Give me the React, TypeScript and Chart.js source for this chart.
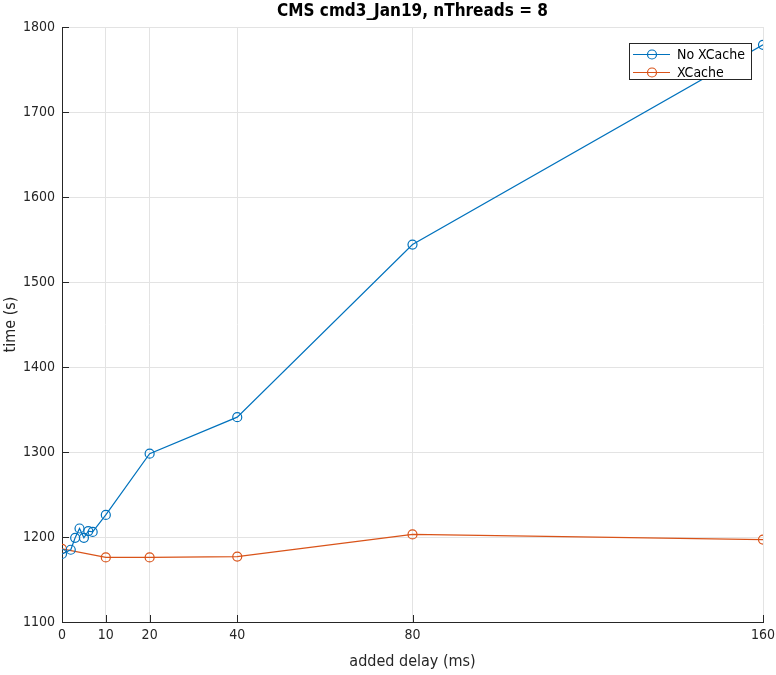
import React, { useEffect, useRef } from "react";
import { Chart, registerables } from "chart.js";

Chart.register(...registerables);

const titleText = "CMS cmd3_Jan19, nThreads = 8";
const xLabel = "added delay (ms)";
const yLabel = "time (s)";
const xTicks = [0, 10, 20, 40, 80, 160];
const yTicks = [1100, 1200, 1300, 1400, 1500, 1600, 1700, 1800];

const noCacheName = "No XCache";
const noCacheX = [0, 2, 3, 4, 5, 6, 7, 10, 20, 40, 80, 160];
const noCacheY = [1180, 1185, 1199, 1210, 1199, 1207, 1206, 1226, 1298, 1341, 1544, 1779];

const cacheName = "XCache";
const cacheX = [0, 10, 20, 40, 80, 160];
const cacheY = [1186, 1176, 1176, 1177, 1203, 1197];

const BLUE = "#0072BD";
const ORANGE = "#D95319";
const FONT = "'DejaVu Sans Condensed', 'DejaVu Sans', sans-serif";
const AXIS = "#262626";

const extras = {
  id: "extras",
  afterDraw(chart: any) {
    const ctx = chart.ctx;
    const area = chart.chartArea;
    const xs = chart.scales.x;
    const ys = chart.scales.y;
    ctx.save();
    // inward tick marks
    ctx.strokeStyle = AXIS;
    ctx.lineWidth = 1;
    ctx.beginPath();
    xTicks.forEach((v) => {
      const px = Math.round(xs.getPixelForValue(v)) + 0.5;
      ctx.moveTo(px, area.bottom);
      ctx.lineTo(px, area.bottom - 7);
    });
    yTicks.forEach((v) => {
      const py = Math.round(ys.getPixelForValue(v)) + 0.5;
      ctx.moveTo(area.left, py);
      ctx.lineTo(area.left + 7, py);
    });
    ctx.stroke();

    // title
    ctx.fillStyle = "#000";
    ctx.font = `bold 17px ${FONT}`;
    ctx.textAlign = "center";
    ctx.textBaseline = "middle";
    ctx.fillText(titleText, (area.left + area.right) / 2, 12);

    // legend
    const lx = 629, ly = 43, lw = 122, lh = 36;
    ctx.fillStyle = "#fff";
    ctx.fillRect(lx, ly, lw, lh);
    ctx.strokeStyle = AXIS;
    ctx.lineWidth = 1;
    ctx.strokeRect(lx + 0.5, ly + 0.5, lw, lh);
    const entries = [
      { name: noCacheName, color: BLUE, y: 54 },
      { name: cacheName, color: ORANGE, y: 72 },
    ];
    entries.forEach((e) => {
      ctx.strokeStyle = e.color;
      ctx.lineWidth = 1.2;
      ctx.beginPath();
      ctx.moveTo(633, e.y + 0.5);
      ctx.lineTo(670, e.y + 0.5);
      ctx.stroke();
      ctx.beginPath();
      ctx.arc(652, e.y + 0.5, 4.5, 0, Math.PI * 2);
      ctx.stroke();
      ctx.fillStyle = "#000";
      ctx.font = `14px ${FONT}`;
      ctx.textAlign = "left";
      ctx.textBaseline = "middle";
      ctx.fillText(e.name, 677, e.y + 1);
    });
    ctx.restore();
  },
};

export default function App() {
  const ref = useRef<HTMLCanvasElement>(null);
  useEffect(() => {
    document.body.style.margin = "0";
    const canvas = ref.current!;
    const ds = (name: string, xs: number[], ys: number[], color: string) => ({
      label: name,
      data: xs.map((x, i) => ({ x, y: ys[i] })),
      borderColor: color,
      backgroundColor: color,
      borderWidth: 1.2,
      pointRadius: 4.5,
      pointHoverRadius: 4.5,
      pointBorderWidth: 1.2,
      pointBorderColor: color,
      pointBackgroundColor: "rgba(0,0,0,0)",
      tension: 0,
      showLine: true,
    });
    const chart = new Chart(canvas, {
      type: "scatter",
      data: {
        datasets: [
          ds(noCacheName, noCacheX, noCacheY, BLUE),
          ds(cacheName, cacheX, cacheY, ORANGE),
        ],
      },
      options: {
        responsive: false,
        animation: false,
        layout: { padding: { left: 0, right: 13, top: 27, bottom: 0 } },
        plugins: {
          legend: { display: false },
          title: { display: false },
          tooltip: { enabled: false },
        },
        scales: {
          x: {
            type: "linear",
            min: 0,
            max: 160,
            afterBuildTicks: (s: any) => {
              s.ticks = xTicks.map((v) => ({ value: v }));
            },
            afterFit: (s: any) => {
              s.height = 53;
              s.paddingLeft = 0;
              s.paddingRight = 0;
            },
            grid: { color: "#e3e3e3", lineWidth: 1, drawTicks: false },
            border: { display: true, color: AXIS, width: 1 },
            ticks: {
              color: AXIS,
              font: { family: FONT, size: 14 },
              padding: 5,
              maxRotation: 0,
              autoSkip: false,
              callback: (v: any) => String(v),
            },
            title: {
              display: true,
              text: xLabel,
              color: AXIS,
              font: { family: FONT, size: 16 },
              padding: { top: 0, bottom: 4 },
            },
          },
          y: {
            type: "linear",
            min: 1100,
            max: 1800,
            afterBuildTicks: (s: any) => {
              s.ticks = yTicks.map((v) => ({ value: v }));
            },
            afterFit: (s: any) => {
              s.width = 62;
              s.paddingTop = 0;
              s.paddingBottom = 0;
            },
            grid: { color: "#e3e3e3", lineWidth: 1, drawTicks: false },
            border: { display: true, color: AXIS, width: 1 },
            ticks: {
              color: AXIS,
              font: { family: FONT, size: 14 },
              padding: 7,
              autoSkip: false,
              callback: (v: any) => String(v),
            },
            title: {
              display: true,
              text: yLabel,
              color: AXIS,
              font: { family: FONT, size: 16 },
              padding: { top: 1, bottom: 0 },
            },
          },
        },
      },
      plugins: [extras],
    });
    return () => chart.destroy();
  }, []);
  return <canvas ref={ref} width={776} height={675} style={{ display: "block" }} />;
}
